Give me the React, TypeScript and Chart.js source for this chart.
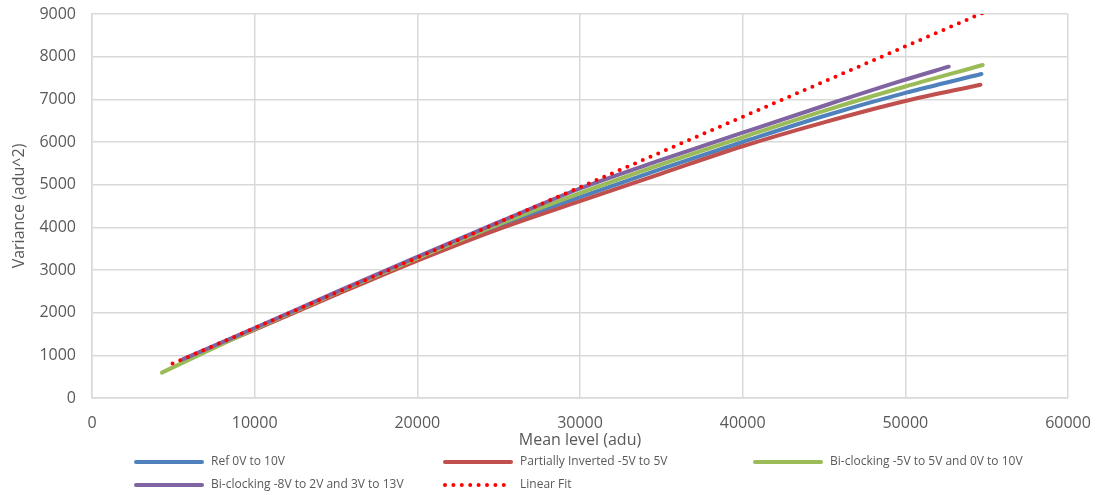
import React, { useEffect, useRef } from "react";
import { Chart, registerables } from "chart.js";

Chart.register(...registerables);

// ---- Data ----
const meanRef = [5600, 10000, 15000, 20000, 25000, 30000, 35000, 40000, 45000, 50000, 54680];
const varRef = [900, 1610, 2440, 3250, 4020, 4710, 5370, 6000, 6610, 7150, 7593];

const meanPartial = [5600, 10000, 15000, 20000, 25000, 30000, 35000, 40000, 45000, 50000, 54620];
const varPartial = [890, 1600, 2420, 3220, 3960, 4615, 5260, 5900, 6460, 6960, 7343];

const meanBi5 = [4300, 10000, 15000, 20000, 25000, 30000, 35000, 40000, 45000, 50000, 54760];
const varBi5 = [595, 1620, 2460, 3280, 4070, 4800, 5475, 6110, 6730, 7300, 7805];

const meanBi8 = [5600, 10000, 15000, 20000, 25000, 30000, 35000, 40000, 45000, 50000, 52670];
const varBi8 = [910, 1640, 2480, 3310, 4120, 4910, 5580, 6218, 6850, 7460, 7765];

const meanFit = [4950, 55000];
const varFit = [807, 9065];

const seriesLabels = [
  "Ref 0V to 10V",
  "Partially Inverted -5V to 5V",
  "Bi-clocking -5V to 5V and 0V to 10V",
  "Bi-clocking -8V to 2V and 3V to 13V",
  "Linear Fit",
];
const seriesColors = ["#4f81bd", "#c0504d", "#9bbb59", "#8064a2", "#ff0000"];

const xTitle = "Mean level (adu)";
const yTitle = "Variance (adu^2)";

const FONT = "'Open Sans', 'Noto Sans', sans-serif";
const TEXT = "#595959";
const GRID = "#d9d9d9";
const DOT_DASH = [0, 8.4];

const pts = (xs: number[], ys: number[]) => xs.map((x, i) => ({ x, y: ys[i] }));

const excelLegend = {
  id: "excelLegend",
  afterDraw(chart: any) {
    const ctx = chart.ctx as CanvasRenderingContext2D;
    const cols = [134, 443, 753];
    const rows = [462, 485];
    ctx.save();
    chart.data.datasets.forEach((ds: any, i: number) => {
      const cx = cols[i % 3];
      const cy = rows[Math.floor(i / 3)];
      ctx.beginPath();
      ctx.strokeStyle = ds.borderColor;
      ctx.lineWidth = ds.borderWidth;
      ctx.lineCap = "round";
      ctx.setLineDash(ds.borderDash || []);
      ctx.moveTo(cx + 2, cy);
      ctx.lineTo(cx + 68, cy);
      ctx.stroke();
      ctx.setLineDash([]);
      ctx.fillStyle = TEXT;
      ctx.font = `12px ${FONT}`;
      ctx.textBaseline = "middle";
      ctx.textAlign = "left";
      ctx.fillText(ds.label, cx + 77, cy);
    });
    ctx.restore();
  },
};

export default function App() {
  const ref = useRef<HTMLCanvasElement | null>(null);

  useEffect(() => {
    document.body.style.margin = "0";
    if (!ref.current) return;
    const mk = (i: number, data: { x: number; y: number }[], order: number) => ({
      label: seriesLabels[i],
      data,
      borderColor: seriesColors[i],
      backgroundColor: seriesColors[i],
      borderWidth: 4,
      pointRadius: 0,
      pointHoverRadius: 0,
      fill: false,
      cubicInterpolationMode: "monotone" as const,
      borderCapStyle: "round" as const,
      order,
    });
    const fit: any = mk(4, pts(meanFit, varFit), 1);
    fit.borderDash = DOT_DASH;
    fit.borderWidth = 4;

    const chart = new Chart(ref.current, {
      type: "line",
      data: {
        datasets: [
          mk(0, pts(meanRef, varRef), 5),
          mk(1, pts(meanPartial, varPartial), 4),
          mk(2, pts(meanBi5, varBi5), 3),
          mk(3, pts(meanBi8, varBi8), 2),
          fit,
        ],
      },
      options: {
        animation: false,
        responsive: false,
        maintainAspectRatio: false,
        layout: { padding: { left: 0, right: 31, top: 14, bottom: 47 } },
        plugins: {
          legend: { display: false },
          tooltip: { enabled: false },
        },
        scales: {
          x: {
            type: "linear",
            min: 0,
            max: 60000,
            ticks: {
              stepSize: 10000,
              color: TEXT,
              font: { family: FONT, size: 16 },
              padding: 16,
              maxRotation: 0,
              callback: (v: any) => String(v),
            },
            grid: { color: GRID, lineWidth: 1.5, drawTicks: false },
            border: { color: GRID, width: 1.5 },
            title: {
              display: true,
              text: xTitle,
              color: TEXT,
              font: { family: FONT, size: 16, lineHeight: 1 },
              padding: { top: 0, bottom: 0 },
            },
            afterFit: (s: any) => {
              s.height = 50;
              s.paddingLeft = 0;
              s.paddingRight = 0;
            },
          },
          y: {
            type: "linear",
            min: 0,
            max: 9000,
            ticks: {
              stepSize: 1000,
              color: TEXT,
              font: { family: FONT, size: 16 },
              padding: 16,
              callback: (v: any) => String(v),
            },
            grid: { color: GRID, lineWidth: 1.5, drawTicks: false },
            border: { color: GRID, width: 1.5 },
            title: {
              display: true,
              text: yTitle,
              color: TEXT,
              font: { family: FONT, size: 16 },
              padding: { top: 10, bottom: 0 },
            },
            afterFit: (s: any) => {
              s.width = 92;
              s.paddingTop = 0;
              s.paddingBottom = 0;
            },
          },
        },
      },
      plugins: [excelLegend],
    });
    return () => chart.destroy();
  }, []);

  return (
    <div style={{ width: 1099, height: 495, background: "#ffffff" }}>
      <canvas ref={ref} width={1099} height={495} style={{ display: "block" }} />
    </div>
  );
}
